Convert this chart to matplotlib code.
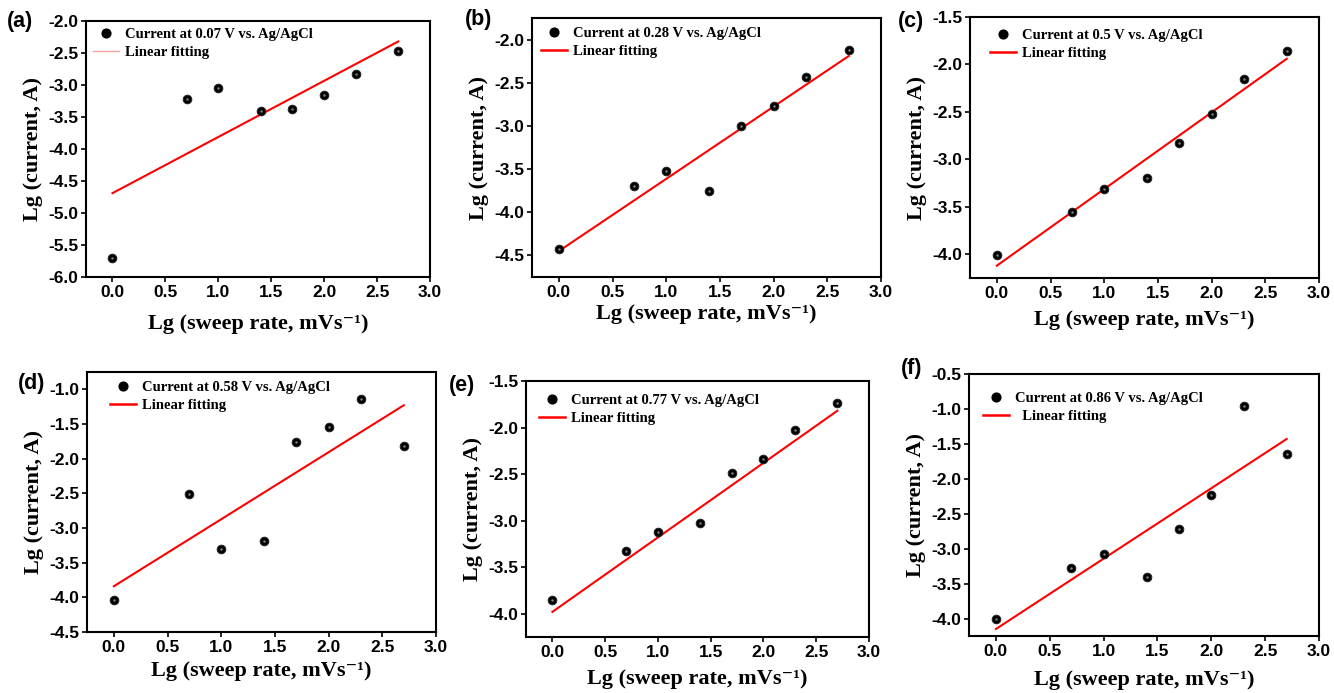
import numpy as np
import matplotlib
matplotlib.use('Agg')
import matplotlib.pyplot as plt
from matplotlib.lines import Line2D

# log10 of sweep rates 1, 5, 10, 25, 50, 100, 200, 500 mV/s
lg_rate = [0.0, 0.7, 1.0, 1.4, 1.7, 2.0, 2.3, 2.7]

cur_a = [-5.70, -3.22, -3.05, -3.40, -3.38, -3.15, -2.83, -2.47]
cur_b = [-4.42, -3.70, -3.52, -3.75, -3.00, -2.77, -2.43, -2.12]
cur_c = [-4.01, -3.55, -3.31, -3.20, -2.83, -2.52, -2.15, -1.855]
cur_d = [-4.04, -2.51, -3.31, -3.19, -1.76, -1.54, -1.14, -1.82]
cur_e = [-3.85, -3.33, -3.125, -3.03, -2.49, -2.34, -2.03, -1.74]
cur_f = [-4.00, -3.28, -3.07, -3.41, -2.72, -2.23, -0.96, -1.65]

# linear fit: value at x=0 and at x=2.7
fit_x = [0.0, 2.7]
fit_a = [-4.69, -2.32]
fit_b = [-4.45, -2.19]
fit_c = [-4.12, -1.94]
fit_d = [-3.84, -1.23]
fit_e = [-3.98, -1.82]
fit_f = [-4.15, -1.43]

potentials = ['0.07', '0.28', '0.5', '0.58', '0.77', '0.86']
panel_tags = ['(a)', '(b)', '(c)', '(d)', '(e)', '(f)']
ylims = [(-6.0, -2.0), (-4.75, -1.75), (-4.25, -1.5),
         (-4.5, -0.75), (-4.25, -1.5), (-4.25, -0.5)]
yticks = [np.arange(-6.0, -1.99, 0.5), np.arange(-4.5, -1.99, 0.5),
          np.arange(-4.0, -1.49, 0.5), np.arange(-4.5, -0.99, 0.5),
          np.arange(-4.0, -1.49, 0.5), np.arange(-4.0, -0.49, 0.5)]

currents = [cur_a, cur_b, cur_c, cur_d, cur_e, cur_f]
fits = [fit_a, fit_b, fit_c, fit_d, fit_e, fit_f]

# axes boxes in pixels (left, right, top, bottom) of the 1334x693 figure
W, H = 1334, 693
boxes = [(86, 430, 21, 277), (532, 881, 18, 277), (970, 1319, 17, 278),
         (87, 436, 372, 632), (526, 869, 381, 637), (969, 1319, 374, 636)]
tag_pos = [(7, 22), (465, 20), (898, 22), (18, 383), (449, 385), (901, 369)]
# legend offset (px) of its top-left corner from the axes top-left
leg_off = [(7, 7), (9, 9), (20, 12), (23, 9), (13, 13), (14, 18)]
xlab_pad = [10, 3, 6.5, 4.5, 6.5, 8]

# Liberation Serif has no superscript minus, DejaVu Serif fills it in
serif = ['Liberation Serif', 'DejaVu Serif']
sans = 'Liberation Sans'

fig = plt.figure(figsize=(W / 100, H / 100), dpi=100)

for i in range(6):
    l, r, t, b = boxes[i]
    ax = fig.add_axes([l / W, 1 - b / H, (r - l) / W, (b - t) / H])
    ax.plot(fit_x, fits[i], color='red', lw=1.5, zorder=2)
    ax.plot(lg_rate, currents[i], 'o', color='black', ms=6.3,
            mec='#222222', mew=0.6, zorder=3)
    ax.plot(lg_rate, currents[i], 'o', color='#a0a0a0', ms=1.8,
            mew=0, zorder=4, alpha=0.8)

    ax.set_xlim(-0.25, 3.0)
    ax.set_ylim(*ylims[i])
    ax.set_xticks(np.arange(0, 3.01, 0.5))
    ax.set_yticks(yticks[i])
    ax.set_xticklabels(['%.1f' % v for v in np.arange(0, 3.01, 0.5)])
    ax.set_yticklabels(['%.1f' % v for v in yticks[i]])
    for lab in ax.get_xticklabels() + ax.get_yticklabels():
        lab.set_fontfamily(sans)
        lab.set_fontweight('bold')
        lab.set_fontsize(12.5)
    ax.tick_params(direction='out', length=3.5, width=1.2, pad=2)
    for s in ax.spines.values():
        s.set_linewidth(1.5)

    ax.set_xlabel('Lg (sweep rate, mVs\u207b\u00b9)', fontfamily=serif,
                  fontweight='bold', fontsize=16, labelpad=xlab_pad[i])
    ax.set_ylabel('Lg (current, A)', fontfamily=serif,
                  fontweight='bold', fontsize=16, labelpad=4)

    line_col = '#f4a0a0' if i == 0 else 'red'
    line_w = 1.0 if i == 0 else 1.8
    fit_label = '  Linear fitting' if i == 5 else 'Linear fitting'
    handles = [Line2D([], [], ls='', marker='o', color='black', ms=6.3),
               Line2D([], [], color=line_col, lw=line_w)]
    ox, oy = leg_off[i]
    ax.legend(handles, ['Current at %s V vs. Ag/AgCl' % potentials[i], fit_label],
              loc='upper left', frameon=False, handlelength=1.8,
              handletextpad=0.4, labelspacing=0.3, borderpad=0,
              borderaxespad=0,
              bbox_to_anchor=(ox / (r - l), 1 - oy / (b - t)),
              prop={'family': serif, 'weight': 'bold', 'size': 10.5})

    fig.text(tag_pos[i][0] / W, 1 - tag_pos[i][1] / H, panel_tags[i],
             fontfamily=sans, fontweight='bold', fontsize=15.5,
             ha='left', va='center')

fig.savefig('out.png', dpi=100, facecolor='white')
